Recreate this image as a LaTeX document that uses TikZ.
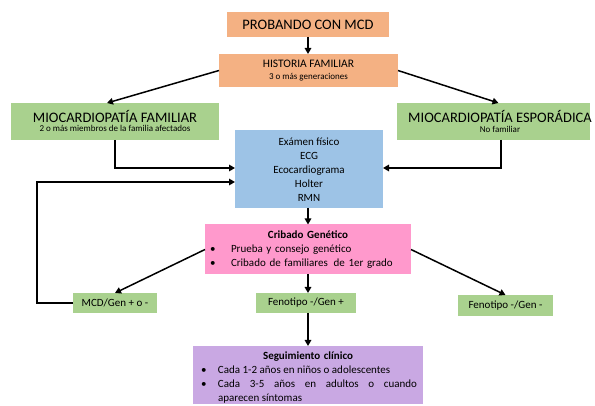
\documentclass[tikz,border=0pt]{standalone}
\usepackage{fontspec}
\setmainfont{Carlito}
\usetikzlibrary{arrows.meta,calc}
\definecolor{corange}{HTML}{F4B183}
\definecolor{cgreen}{HTML}{A9D18E}
\definecolor{cblue}{HTML}{9DC3E6}
\definecolor{cpink}{HTML}{FF99CC}
\definecolor{cpurple}{HTML}{C9A8E3}
\newcommand\bulx[1]{\leavevmode\llap{\makebox[#1][l]{\textbullet}}}
\begin{document}
\begin{tikzpicture}[x=1pt,y=-1pt,
  box/.style={rectangle, inner sep=0pt, outer sep=0pt},
  arr/.style={line width=1.5pt, -{Triangle[length=6pt,width=6.5pt]}},
  bigtxt/.style={font=\fontsize{14.5}{17}\selectfont, inner sep=0pt, anchor=base},
  midtxt/.style={font=\fontsize{11.5}{14}\selectfont, inner sep=0pt, anchor=base},
  smalltxt/.style={font=\fontsize{9}{11}\selectfont, inner sep=0pt, anchor=base},
  bodytxt/.style={font=\fontsize{11}{14}\selectfont, inner sep=0pt}
]
\useasboundingbox (0,0) rectangle (595,406);
\clip (0,0) rectangle (595,406);

% boxes
\node[box, fill=corange, minimum width=162pt, minimum height=25pt, font=\fontsize{14.5}{17}\selectfont] (prob) at (308,24.5) {PROBANDO CON MCD};
\node[box, fill=corange, minimum width=179pt, minimum height=33pt] (hist) at (308.5,70.5) {};
\node[midtxt] (histt) at (308.5,68) {HISTORIA FAMILIAR};
\node[smalltxt] (hists) at (308.5,80) {3 o más generaciones};

\node[box, fill=cgreen, minimum width=208pt, minimum height=37pt] (fam) at (115,121.5) {};
\node[bigtxt] (famt) at (115,122.5) {MIOCARDIOPATÍA FAMILIAR};
\node[smalltxt] (fams) at (115,132) {2 o más miembros de la familia afectados};

\node[box, fill=cgreen, minimum width=193pt, minimum height=37pt] (esp) at (493.5,121.5) {};
\node[bigtxt] (espt) at (500,122.5) {MIOCARDIOPATÍA ESPORÁDICA};
\node[smalltxt] (esps) at (500,132.5) {No familiar};

\node[box, fill=cblue, minimum width=148pt, minimum height=78pt] (exam) at (309,169) {};
\node[bodytxt, align=center] (examt) at (309,170) {Exámen físico\\ECG\\Ecocardiograma\\Holter\\RMN};

\node[box, fill=cpink, minimum width=206pt, minimum height=50pt] (crib) at (308,249.5) {};
\node[bodytxt, text width=206pt] (cribt) at (308,250) {\parindent=0pt
{\centering\textbf{Cribado Genético}\par}
{\leftskip=26pt\rightskip=0pt plus 1fil
\bulx{21pt}Prueba y consejo genético\par
\bulx{21pt}Cribado de familiares\hspace{2pt} de 1er grado\par}};

\node[box, fill=cgreen, minimum width=84pt, minimum height=20pt, font=\fontsize{11}{14}\selectfont] (mcd) at (115,303) {MCD/Gen + o -};
\node[box, fill=cgreen, minimum width=100pt, minimum height=20pt, font=\fontsize{11}{14}\selectfont] (gp) at (306,303) {Fenotipo -/Gen +};
\node[box, fill=cgreen, minimum width=95pt, minimum height=21pt, font=\fontsize{11}{14}\selectfont] (gm) at (505.5,305.5) {Fenotipo -/Gen -};

\node[box, fill=cpurple, minimum width=230pt, minimum height=58pt] (seg) at (308,375) {};
\node[bodytxt, text width=230pt] (segt) at (308,378) {\parindent=0pt
{\centering\textbf{Seguimiento clínico}\par}
{\leftskip=25pt\rightskip=6pt\parfillskip=0pt plus 1fil\spaceskip=0pt\xspaceskip=0pt
\bulx{17pt}Cada 1-2 años en niños o adolescentes\par
\bulx{17pt}Cada 3-5 años en adultos o cuando\linebreak aparecen síntomas\par}};

% connectors
\coordinate (loopx) at (37,303);
\draw[arr] (prob.south) -- (prob.south |- hist.north);
\draw[arr] (hist.west) -- ($(fam.north)+(-8,0)$);
\draw[arr] (hist.east) -- ($(esp.north)+(5,0)$);
\draw[arr] (fam.south) |- ($(exam.west)+(0,-1)$);
\draw[arr] ($(esp.south)+(7.5,0)$) |- ($(exam.east)+(0,-1)$);
\draw[arr] (mcd.west) -- (loopx) |- ($(exam.west)+(0,13)$);
\draw[arr] (exam.south -| crib.north) -- (crib.north);
\draw[arr] (crib.west) -- (mcd.north);
\draw[arr] (crib.east) -- (gm.north);
\draw[arr] (crib.south) -- (crib.south |- gp.north);
\draw[arr] (gp.south -| seg.north) -- (seg.north);
\end{tikzpicture}
\end{document}
